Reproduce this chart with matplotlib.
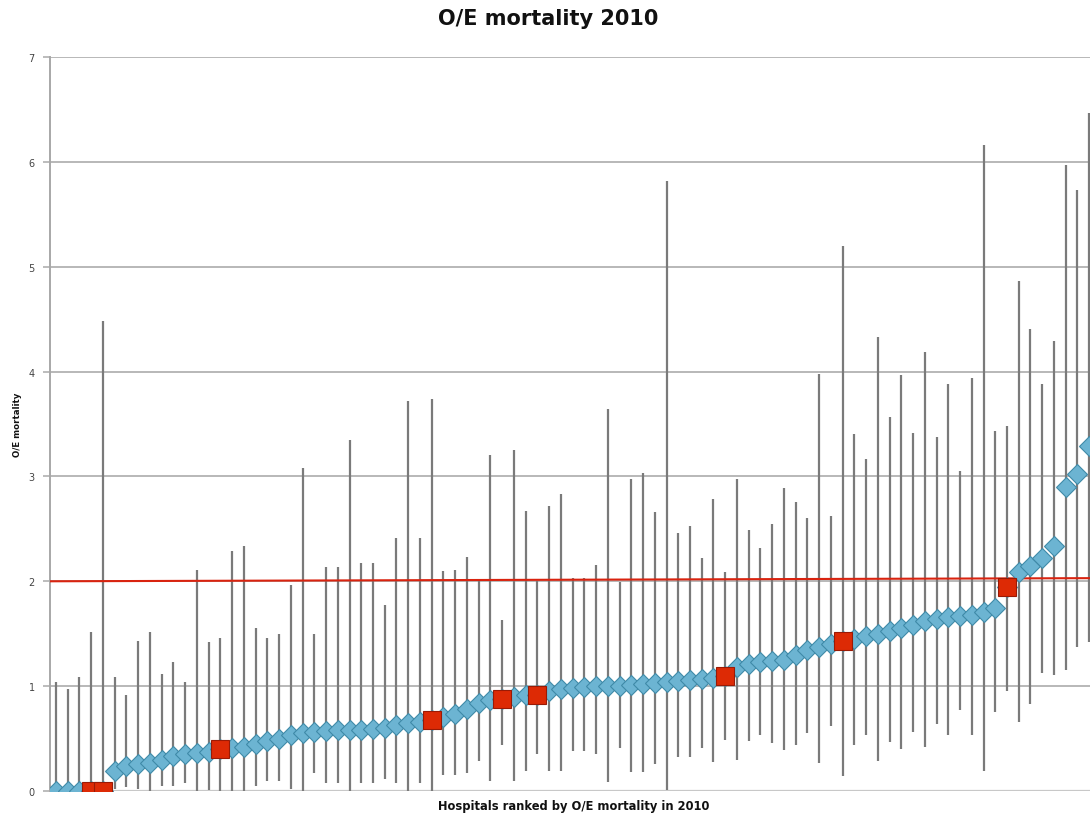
import numpy as np
import matplotlib
matplotlib.use("Agg")
import matplotlib.pyplot as plt

# O/E mortality per hospital (ranked), with lower/upper confidence limits
oe_values = [0, 0, 0, 0, 0, 0.19, 0.24, 0.26, 0.27, 0.30,
             0.33, 0.35, 0.36, 0.37, 0.40, 0.41, 0.42, 0.45, 0.48, 0.50,
             0.53, 0.55, 0.56, 0.57, 0.58, 0.58, 0.58, 0.59, 0.60, 0.63,
             0.65, 0.66, 0.68, 0.71, 0.73, 0.78, 0.84, 0.87, 0.88, 0.90,
             0.92, 0.92, 0.95, 0.97, 0.98, 0.99, 1.00, 1.00, 1.00, 1.01,
             1.02, 1.03, 1.04, 1.05, 1.06, 1.07, 1.08, 1.10, 1.18, 1.21,
             1.23, 1.24, 1.25, 1.30, 1.34, 1.37, 1.40, 1.43, 1.45, 1.48,
             1.50, 1.53, 1.55, 1.58, 1.62, 1.64, 1.66, 1.67, 1.68, 1.71,
             1.75, 1.95, 2.09, 2.15, 2.22, 2.34, 2.90, 3.02, 3.29]
oe_lower = [0, 0, 0, 0, 0, 0.02, 0.04, 0.02, 0.0, 0.05,
            0.05, 0.08, 0.0, 0.01, 0.0, 0.0, 0.0, 0.05, 0.10, 0.10,
            0.02, 0.0, 0.17, 0.08, 0.08, 0.0, 0.08, 0.08, 0.11, 0.08,
            0.0, 0.08, 0.0, 0.15, 0.15, 0.17, 0.29, 0.10, 0.44, 0.10,
            0.19, 0.35, 0.19, 0.19, 0.38, 0.38, 0.35, 0.09, 0.41, 0.18,
            0.18, 0.26, 0.01, 0.32, 0.32, 0.41, 0.28, 0.49, 0.30, 0.48,
            0.53, 0.46, 0.39, 0.44, 0.55, 0.27, 0.62, 0.14, 0.44, 0.53,
            0.29, 0.47, 0.40, 0.56, 0.42, 0.64, 0.53, 0.77, 0.53, 0.19,
            0.75, 0.95, 0.66, 0.83, 1.13, 1.11, 1.15, 1.37, 1.42]
oe_upper = [1.04, 0.97, 1.09, 1.52, 4.48, 1.09, 0.92, 1.43, 1.52, 1.12,
            1.23, 1.04, 2.11, 1.42, 1.46, 2.29, 2.34, 1.55, 1.46, 1.50,
            1.96, 3.08, 1.50, 2.14, 2.14, 3.35, 2.17, 2.17, 1.77, 2.41,
            3.72, 2.41, 3.74, 2.10, 2.11, 2.23, 2.00, 3.20, 1.63, 3.25,
            2.67, 2.00, 2.72, 2.83, 2.03, 2.03, 2.16, 3.64, 1.99, 2.98,
            3.03, 2.66, 5.82, 2.46, 2.53, 2.22, 2.78, 2.09, 2.98, 2.49,
            2.32, 2.55, 2.89, 2.76, 2.60, 3.98, 2.62, 5.20, 3.40, 3.17,
            4.33, 3.57, 3.97, 3.41, 4.19, 3.38, 3.88, 3.05, 3.94, 6.16,
            3.43, 3.48, 4.86, 4.41, 3.88, 4.29, 5.97, 5.73, 6.47]
highlighted = [3, 4, 14, 32, 38, 41, 57, 67, 81]   # hospitals shown as red squares
reference_line = [2.0, 2.03]                       # red reference line (left, right)
y_ticks = [0, 1, 2, 3, 4, 5, 6, 7]

title = "O/E mortality 2010"
y_label = "O/E mortality"
x_label = "Hospitals ranked by O/E mortality in 2010"

plt.rcParams['font.family'] = ['DejaVu Sans']

fig = plt.figure(figsize=(10.9, 8.2), dpi=100)
ax = fig.add_axes([50 / 1090, 28 / 820, 1040 / 1090, 734 / 820])

x = np.arange(len(oe_values))
vals = np.array(oe_values)
lo = np.array(oe_lower)
hi = np.array(oe_upper)

# grid lines
for t in y_ticks[1:]:
    ax.axhline(t, color='#b8b8b8', lw=1.4, zorder=1)
ax.axhline(0, color='#c8c8c8', lw=1.6, zorder=1)

# confidence intervals
ax.vlines(x, lo, hi, colors='#7a7a7a', lw=1.6, zorder=2)

# reference line
ax.plot([x[0] - 0.5, x[-1] + 0.5], reference_line, color='#d9230f', lw=1.5, zorder=3)

# diamonds
ax.plot(x, vals, linestyle='none', marker='D', ms=9.8, mfc='#6cb4d2',
        mec='#3f8aa8', mew=0.8, zorder=4)
# highlighted squares
hx = np.array(highlighted)
ax.plot(hx, vals[hx], linestyle='none', marker='s', ms=13.5, mfc='#dd2a05',
        mec='#9a1a05', mew=0.8, zorder=5)

ax.set_xlim(-0.51, 88.07)
ax.set_ylim(0, 7)
ax.set_yticks(y_ticks)
ax.set_yticklabels([str(t) for t in y_ticks])
ax.set_xticks([])
for s in ['top', 'right', 'bottom']:
    ax.spines[s].set_visible(False)
ax.spines['left'].set_color('#a8a8a8')
ax.spines['left'].set_linewidth(1.4)
ax.tick_params(axis='y', length=5, width=1.2, color='#b0b0b0',
               labelsize=7, labelcolor='#444444', pad=6)

fig.text(0.503, 0.977, title, ha='center', va='center', fontsize=15,
         fontweight='bold', color='#111111')
fig.text(0.016, 0.482, y_label, rotation=90, ha='center', va='center',
         fontsize=6.2, fontweight='bold', color='#111111')
fig.text(0.526, 0.017, x_label, ha='center', va='center', fontsize=8.3,
         fontweight='bold', color='#111111')

fig.savefig('out.png', dpi=100)
